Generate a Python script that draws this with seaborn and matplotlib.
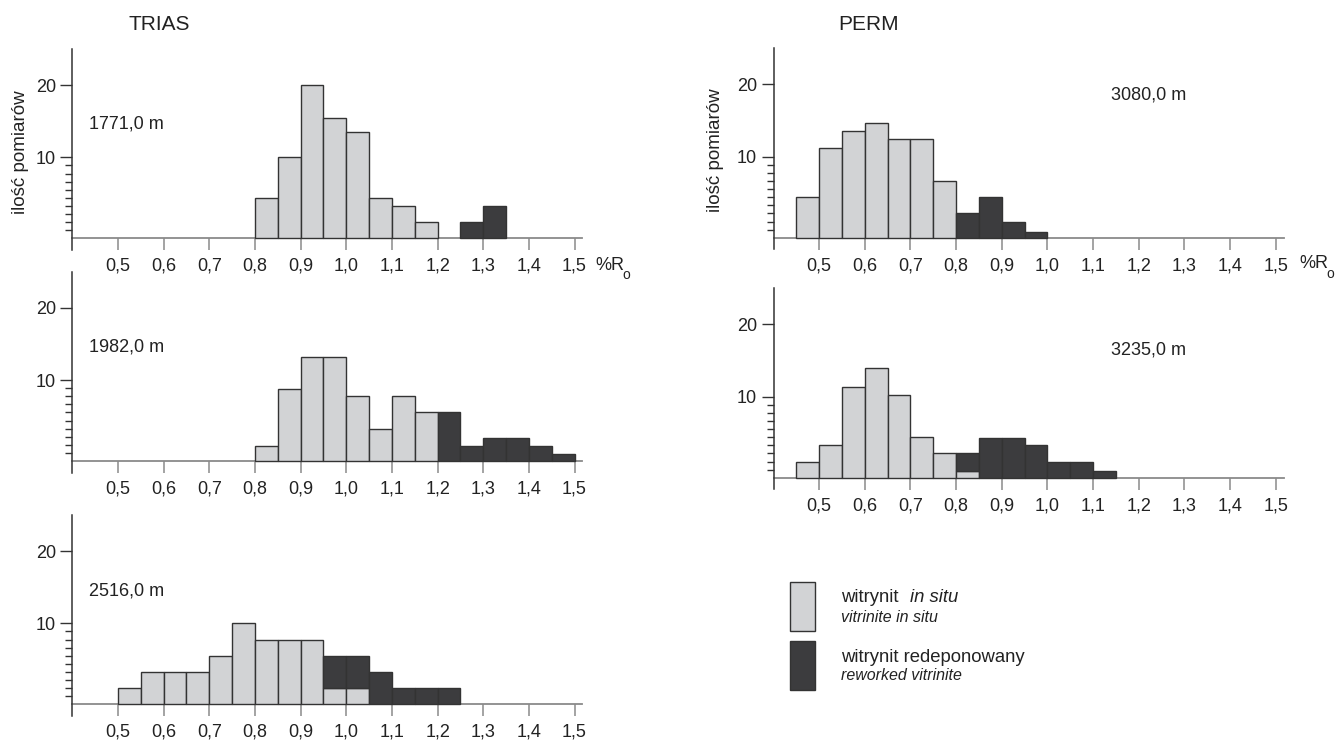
import numpy as np
import pandas as pd
import matplotlib
matplotlib.use("Agg")
import matplotlib.pyplot as plt
from matplotlib.patches import Rectangle
from matplotlib.ticker import FixedLocator
import seaborn as sns

sns.set_style("white")
plt.rcParams["font.family"] = ["Liberation Sans", "DejaVu Sans"]

# bins of %Ro (left edges), width 0.05
bin_left = [0.45, 0.50, 0.55, 0.60, 0.65, 0.70, 0.75, 0.80, 0.85, 0.90, 0.95,
            1.00, 1.05, 1.10, 1.15, 1.20, 1.25, 1.30, 1.35, 1.40, 1.45]
bin_width = 0.05
x_ticks = [0.5, 0.6, 0.7, 0.8, 0.9, 1.0, 1.1, 1.2, 1.3, 1.4, 1.5]
x_tick_labels = ["0,5", "0,6", "0,7", "0,8", "0,9", "1,0", "1,1", "1,2", "1,3", "1,4", "1,5"]

# counts: in situ / reworked
t1771_insitu = [0, 0, 0, 0, 0, 0, 0, 5, 10, 20, 15.4, 13.5, 5, 4, 2, 0, 0, 0, 0, 0, 0]
t1771_redep = [0, 0, 0, 0, 0, 0, 0, 0, 0, 0, 0, 0, 0, 0, 0, 0, 2, 4, 0, 0, 0]
t1982_insitu = [0, 0, 0, 0, 0, 0, 0, 1.8, 8.9, 13.2, 13.2, 8, 3.9, 8, 6, 0, 0, 0, 0, 0, 0]
t1982_redep = [0, 0, 0, 0, 0, 0, 0, 0, 0, 0, 0, 0, 0, 0, 0, 6, 1.8, 2.9, 2.9, 1.8, 0.9]
t2516_insitu = [0, 2, 4, 4, 4, 6, 10, 8, 8, 8, 2, 2, 0, 0, 0, 0, 0, 0, 0, 0, 0]
t2516_redep = [0, 0, 0, 0, 0, 0, 0, 0, 0, 0, 4, 4, 4, 2, 2, 2, 0, 0, 0, 0, 0]
p3080_insitu = [5, 11.2, 13.5, 14.7, 12.5, 12.5, 7, 0, 0, 0, 0, 0, 0, 0, 0, 0, 0, 0, 0, 0, 0]
p3080_redep = [0, 0, 0, 0, 0, 0, 0, 3, 5, 2, 0.7, 0, 0, 0, 0, 0, 0, 0, 0, 0, 0]
p3235_insitu = [2, 4, 11.4, 14, 10.2, 5, 3, 0.8, 0, 0, 0, 0, 0, 0, 0, 0, 0, 0, 0, 0, 0]
p3235_redep = [0, 0, 0, 0, 0, 0, 0, 2.2, 4.9, 4.9, 4, 2, 2, 0.8, 0, 0, 0, 0, 0, 0, 0]

LIGHT = "#d2d3d5"
DARK = "#3c3c3e"
EDGE = "#333333"
TXT = "#222222"

W, H = 1336, 740
fig = plt.figure(figsize=(W / 100, H / 100), dpi=100)


def fx(px):
    return px / W


def fy(py):
    return 1 - py / H


# the drawn y axis is a bit stretched below 10
K = 24.3 / 21.7


def fwd(y):
    y = np.asarray(y, dtype=float)
    return np.where(y <= 10, y * K, 10 * K + (y - 10))


def inv(v):
    v = np.asarray(v, dtype=float)
    return np.where(v <= 10 * K, v / K, v - 10 * K + 10)


Y_LO, Y_HI = -1.45, 25
UNIT = 7.23  # px per (transformed) unit


def make_axes(x0, base):
    top = base - float(fwd(Y_HI)) * UNIT
    bot = base - float(fwd(Y_LO)) * UNIT
    ax = fig.add_axes([fx(x0), fy(bot), 510 / W, (bot - top) / H])
    return ax


def draw_panel(ax, insitu, redep):
    centers = [b + bin_width / 2 for b in bin_left]
    edges = bin_left + [bin_left[-1] + bin_width]
    df = pd.DataFrame({
        "ro": centers + centers,
        "n": insitu + redep,
        "typ": ["in situ"] * len(centers) + ["redep"] * len(centers),
    })
    sns.histplot(data=df, x="ro", weights="n", hue="typ",
                 hue_order=["redep", "in situ"], multiple="stack",
                 bins=edges, palette={"in situ": LIGHT, "redep": DARK},
                 edgecolor=EDGE, linewidth=1.0, alpha=1, legend=False, ax=ax)
    for p in ax.patches:
        if p.get_height() == 0:
            p.set_visible(False)

    ax.set_yscale("function", functions=(fwd, inv))
    ax.set_ylim(Y_LO, Y_HI)
    ax.set_xlim(0.40, 1.517)
    ax.set_xlabel("")
    ax.set_ylabel("")
    ax.set_facecolor("none")

    for s in ["top", "right"]:
        ax.spines[s].set_visible(False)
    ax.spines["bottom"].set_position(("data", 0))
    ax.spines["bottom"].set_color("#8a8a8a")
    ax.spines["bottom"].set_linewidth(1.3)
    ax.spines["bottom"].set_zorder(0.5)
    ax.spines["left"].set_color("#333333")
    ax.spines["left"].set_linewidth(1.1)

    ax.set_xticks(x_ticks, x_tick_labels)
    ax.tick_params(axis="x", direction="out", length=8.4, width=1.1,
                   color="#8a8a8a", pad=5.5, labelsize=13, labelcolor=TXT,
                   bottom=True)
    ax.set_yticks([10, 20], ["10", "20"])
    ax.yaxis.set_minor_locator(FixedLocator([1, 2, 3, 4, 5, 6, 7, 8, 9]))
    ax.tick_params(axis="y", which="major", direction="out", length=8.4,
                   width=1.0, color="#333333", pad=3.5, labelsize=13,
                   labelcolor=TXT, left=True)
    ax.tick_params(axis="y", which="minor", direction="out", length=5.3,
                   width=1.0, color="#333333", left=True)


panels = [
    (72.3, 238.3, t1771_insitu, t1771_redep, "1771,0 m", 89, 124),
    (72.3, 461.0, t1982_insitu, t1982_redep, "1982,0 m", 89, 347),
    (72.3, 704.3, t2516_insitu, t2516_redep, "2516,0 m", 89, 591),
    (773.5, 237.7, p3080_insitu, p3080_redep, "3080,0 m", 1111, 95),
    (773.5, 477.7, p3235_insitu, p3235_redep, "3235,0 m", 1111, 350),
]

for x0, base, ins, red, depth, tx, ty in panels:
    ax = make_axes(x0, base)
    draw_panel(ax, ins, red)
    fig.text(fx(tx), fy(ty), depth, ha="left", va="center",
             fontsize=13, color=TXT)

# titles, axis labels
fig.text(fx(159), fy(25), "TRIAS", ha="center", va="center", fontsize=15, color=TXT)
fig.text(fx(869), fy(24), "PERM", ha="center", va="center", fontsize=15, color=TXT)
fig.text(fx(21), fy(152), "ilość pomiarów", rotation=90, ha="center",
         va="center", fontsize=13.5, color=TXT)
fig.text(fx(716), fy(150), "ilość pomiarów", rotation=90, ha="center",
         va="center", fontsize=13.5, color=TXT)
for rx, ry in [(595, 265), (1299, 264)]:
    fig.text(fx(rx), fy(ry), "%R", ha="left", va="center", fontsize=13, color=TXT)
    fig.text(fx(rx + 27), fy(ry + 10), "o", ha="left", va="center",
             fontsize=10, color=TXT)

# legend
for y_top, col in [(581.7, LIGHT), (640.7, DARK)]:
    fig.add_artist(Rectangle((fx(790), fy(y_top + 49)), 25 / W, 49 / H,
                             transform=fig.transFigure, facecolor=col,
                             edgecolor=EDGE, linewidth=1.0))
fig.text(fx(841), fy(598), "witrynit", ha="left", va="center", fontsize=13.3, color=TXT)
fig.text(fx(910), fy(598), "in situ", ha="left", va="center", fontsize=13.3,
         style="italic", color=TXT)
fig.text(fx(841), fy(617), "vitrinite in situ", ha="left", va="center",
         fontsize=11.5, style="italic", color=TXT)
fig.text(fx(841), fy(657), "witrynit redeponowany", ha="left", va="center",
         fontsize=13.3, color=TXT)
fig.text(fx(841), fy(676), "reworked vitrinite", ha="left", va="center",
         fontsize=11.5, style="italic", color=TXT)

fig.savefig("out.png", dpi=100)
